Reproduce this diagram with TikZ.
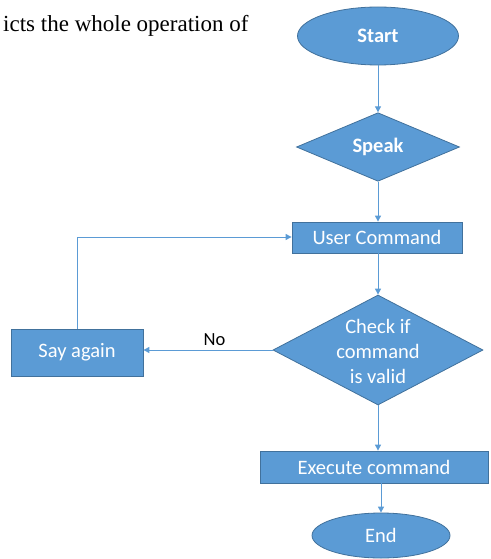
\documentclass[tikz,border=0pt]{standalone}
\usepackage{fontspec}
\setmainfont{Carlito}
\newfontfamily\seriffont{Liberation Serif}
\usetikzlibrary{shapes.geometric,arrows.meta}
\definecolor{boxfill}{HTML}{5B9BD5}
\definecolor{boxline}{HTML}{41719C}
\definecolor{arrowcol}{HTML}{5B9BD5}
\tikzset{
  shapebase/.style={fill=boxfill, draw=boxline, line width=0.8pt, text=white, inner sep=0pt, font=\fontsize{20.5}{25}\selectfont},
  oval/.style={shapebase, ellipse},
  dia/.style={shapebase, diamond},
  rectbox/.style={shapebase, rectangle},
  flow/.style={draw=arrowcol, line width=1pt, -{Triangle[width=6pt,length=6pt]}},
  txt/.style={text=white, inner sep=0pt, align=center, font=\fontsize{20.5}{25}\selectfont},
}
\begin{document}
\begin{tikzpicture}[x=1pt,y=-1pt]
\useasboundingbox (0,0) rectangle (490,559);
\node[anchor=base west, inner sep=0pt, font=\seriffont\fontsize{23}{27}\selectfont] (intro) at (3,32) {icts the whole operation of};
\node[oval, minimum width=161, minimum height=58, font=\bfseries\fontsize{20.5}{25}\selectfont] (start) at (378,36) {Start};
\node[dia, minimum width=163, minimum height=67, font=\bfseries\fontsize{20.5}{25}\selectfont] (speak) at (378,147) {Speak};
\node[rectbox, minimum width=170, minimum height=31] (user) at (377,237.5) {User Command};
\node[dia, minimum width=210, minimum height=110] (check) at (378,350) {};
\node[txt] (checkt) at (378,351) {Check if\\command\\is valid};
\node[rectbox, minimum width=228, minimum height=32] (exec) at (374,467) {Execute command};
\node[oval, minimum width=138, minimum height=45] (end) at (381,535.5) {End};
\node[rectbox, minimum width=132, minimum height=47] (say) at (77,352.5) {Say again};
\draw[flow] (start) -- (speak);
\draw[flow] (speak.south) -- (speak.south |- user.north);
\draw[flow] (user.south -| check.north) -- (check.north);
\draw[flow] (check.south) -- (check.south |- exec.north);
\draw[flow] (exec.south -| end.north) -- (end.north);
\draw[flow] (check.west) -- (say.east |- check.west) node[pos=0.45, above=0.5pt, text=black, font=\fontsize{18.5}{22}\selectfont] (no) {No};
\coordinate (corner) at (77,237);
\draw[flow] (say.north) -- (corner) -- (user.west |- corner);
\end{tikzpicture}
\end{document}
